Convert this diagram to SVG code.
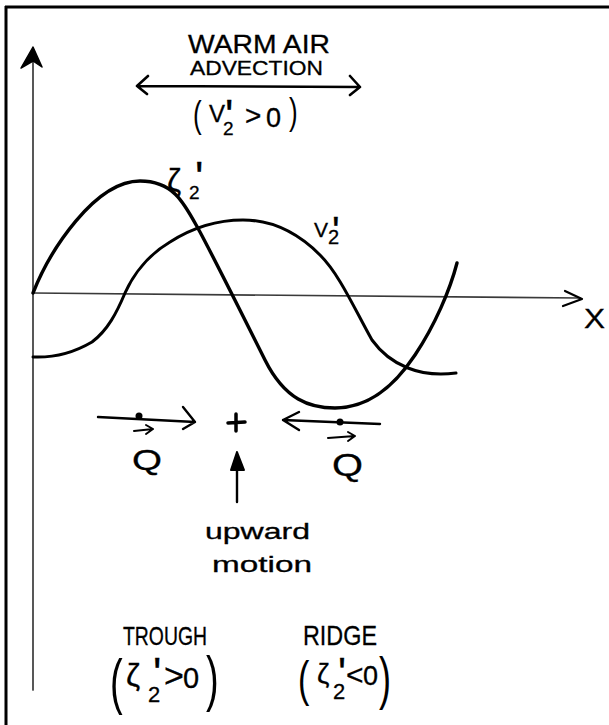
<svg xmlns="http://www.w3.org/2000/svg" width="609" height="725" viewBox="0 0 609 725">
<style>
.ink{fill:none;stroke:#000;stroke-linecap:round;stroke-linejoin:round}
.axis{fill:none;stroke:#3a3a3a;stroke-width:1.7;stroke-linecap:round}
.t{font-family:"Liberation Sans",Arial,sans-serif;fill:#000;stroke:#000;stroke-width:0.3}
.p{font-family:"Liberation Sans",Arial,sans-serif;fill:#000}
</style>
<rect width="609" height="725" fill="#fff"/>
<g id="frame">
<line x1="5" y1="7" x2="609" y2="7" stroke="#000" stroke-width="3"/>
<line x1="6" y1="6" x2="6" y2="725" stroke="#000" stroke-width="3"/>
</g>
<g id="axes">
<line class="axis" x1="33" y1="60" x2="33" y2="690"/>
<polygon points="33,47 21,68 33,61 42,67" fill="#000" stroke="#000" stroke-width="1.5" stroke-linejoin="round"/>
<line class="axis" x1="33" y1="293" x2="580" y2="298"/>
<path class="ink" stroke-width="2.2" d="M565,291 L582,299 L563,306"/>
<text class="t" x="584" y="328" font-size="28" textLength="21" lengthAdjust="spacingAndGlyphs">X</text>
</g>
<g id="curves">
<path id="zeta-curve" class="ink" stroke-width="3.4" d="M33,293 C50,250 95,181 140,181 C175,181 185,205 200,232 C215,260 245,320 265,360 C285,400 310,408 335,408 C370,408 395,385 415,355 C435,325 450,290 457,263"/>
<path id="v-curve" class="ink" stroke-width="3" d="M33,357 C55,358 75,352 92,342 C108,330 117,312 125,293 C133,275 148,255 170,242 C195,226 220,220 243,220 C275,220 300,235 320,255 C340,275 355,310 372,340 C390,365 420,378 456,373"/>
</g>
<g id="warm-air-advection">
<text class="t" x="188" y="53" font-size="25" textLength="142" lengthAdjust="spacingAndGlyphs">WARM AIR</text>
<text class="t" x="190" y="75" font-size="21" textLength="133" lengthAdjust="spacingAndGlyphs">ADVECTION</text>
<path class="ink" stroke-width="2.6" d="M137,86 L360,87 M148,76 L137,86 L147,94 M350,76 L360,87 L350,95"/>
<text class="p" font-size="26" transform="translate(193,127) scale(1,1.45)">(</text>
<text class="t"><tspan x="209" y="122" font-size="24">V</tspan><tspan x="225" y="131" font-size="44">'</tspan><tspan x="223" y="135" font-size="19">2</tspan><tspan x="245" y="125" font-size="28">&gt;</tspan><tspan x="266" y="127" font-size="27">0</tspan></text>
<text class="p" font-size="26" transform="translate(289,124) scale(1,1.45)">)</text>
</g>
<g id="zeta-label">
<text class="t"><tspan x="167" y="191" font-size="32">ζ</tspan><tspan x="195" y="193" font-size="44">'</tspan><tspan x="189" y="199" font-size="19">2</tspan></text>
</g>
<g id="v-label">
<text class="t"><tspan x="314" y="237" font-size="21">V</tspan><tspan x="332" y="245" font-size="40">'</tspan><tspan x="328" y="244" font-size="20">2</tspan></text>
</g>
<g id="q-left">
<path class="ink" stroke-width="2.4" d="M98,417 L195,422 M183,407 L195,422 L183,429"/>
<circle cx="139" cy="416" r="3.5" fill="#000"/>
<path class="ink" stroke-width="2" d="M134,431 L153,429 M146,425 L153,429 L146,434"/>
<text class="t" x="132" y="470" font-size="30" textLength="30" lengthAdjust="spacingAndGlyphs">Q</text>
</g>
<g id="convergence">
<path class="ink" stroke-width="3.5" d="M228,423 L245,422 M236,414 L236,431"/>
</g>
<g id="q-right">
<path class="ink" stroke-width="2.4" d="M380,424 L283,420 M299,412 L283,420 L299,430"/>
<circle cx="340" cy="422" r="3.5" fill="#000"/>
<path class="ink" stroke-width="2" d="M328,438 L355,436 M348,432 L355,436 L348,441"/>
<text class="t" x="332" y="476" font-size="32" textLength="31" lengthAdjust="spacingAndGlyphs">Q</text>
</g>
<g id="upward-motion">
<line class="ink" stroke-width="2.4" x1="237" y1="502" x2="237" y2="468"/>
<polygon points="237,452 231,470 244,470" fill="#000" stroke="#000" stroke-width="2" stroke-linejoin="round"/>
<text class="t" x="205" y="539" font-size="22" textLength="105" lengthAdjust="spacingAndGlyphs">upward</text>
<text class="t" x="212" y="572" font-size="22" textLength="100" lengthAdjust="spacingAndGlyphs">motion</text>
</g>
<g id="trough">
<text class="t" x="123" y="645" font-size="25" textLength="84" lengthAdjust="spacingAndGlyphs">TROUGH</text>
<text class="p" font-size="38" transform="translate(110,702) scale(1,1.6)">(</text>
<text class="t"><tspan x="126" y="686" font-size="32">ζ</tspan><tspan x="153" y="689" font-size="44">'</tspan><tspan x="148" y="702" font-size="22">2</tspan><tspan x="164" y="687" font-size="34">&gt;</tspan><tspan x="183" y="688" font-size="29">0</tspan></text>
<text class="p" font-size="38" transform="translate(206,699) scale(1,1.6)">)</text>
</g>
<g id="ridge">
<text class="t" x="303" y="645" font-size="28" textLength="74" lengthAdjust="spacingAndGlyphs">RIDGE</text>
<text class="p" font-size="34" transform="translate(298,696) scale(1,1.47)">(</text>
<text class="t"><tspan x="317" y="683" font-size="28">ζ</tspan><tspan x="338" y="687" font-size="42">'</tspan><tspan x="333" y="699" font-size="22">2</tspan><tspan x="346" y="685" font-size="30">&lt;</tspan><tspan x="363" y="685" font-size="27">0</tspan></text>
<text class="p" font-size="36" transform="translate(379,698) scale(1,1.57)">)</text>
</g>
</svg>
